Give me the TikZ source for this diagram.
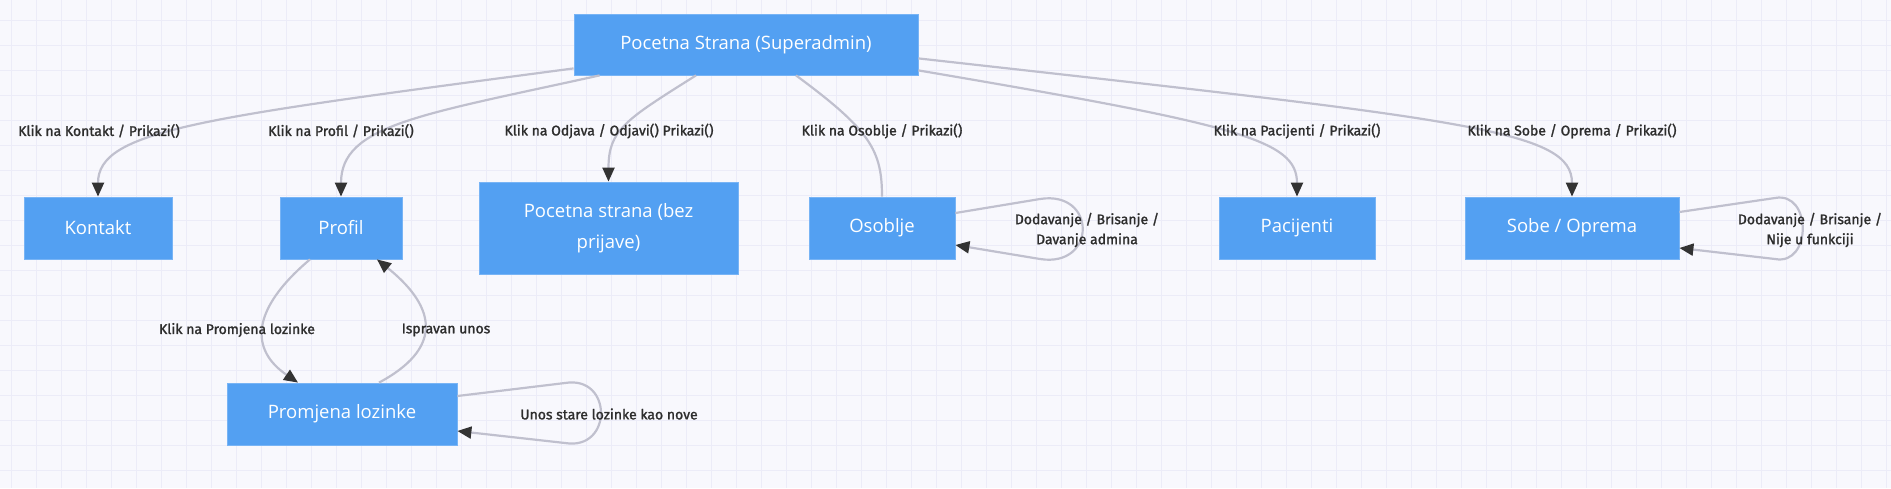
\documentclass[tikz,border=0pt]{standalone}
\usepackage{fontspec}
\setmainfont{Open Sans}
\newfontfamily\lblfont[FakeBold=1.5]{Fira Sans}
\usepackage{xcolor}
\usetikzlibrary{arrows.meta}

\definecolor{stblue}{RGB}{83,160,242}
\definecolor{stborder}{RGB}{120,180,245}
\definecolor{edgegray}{RGB}{192,192,206}
\definecolor{tipdark}{RGB}{51,51,51}
\definecolor{lbltext}{RGB}{45,45,45}
\definecolor{bgpaper}{RGB}{248,248,253}
\definecolor{gridline}{RGB}{236,236,248}

\begin{document}
\begin{tikzpicture}[x=1pt, y=-1pt,
	state/.style={draw=stborder, line width=0.8pt, fill=stblue, text=white, font=\fontsize{18.5}{31}\selectfont, inner sep=0pt, minimum height=62pt, align=center},
	lbl/.style={text=lbltext, font=\lblfont\fontsize{14}{20}\selectfont, align=center, inner sep=0pt},
	edge/.style={draw=edgegray, line width=2.2pt},
	tip/.style={-{Triangle[length=14pt, width=12pt, color=tipdark]}}]
				\useasboundingbox (0,0) rectangle (1891,488);
				\fill[bgpaper] (0,0) rectangle (1891,488);
				\foreach \gx in {11,36,...,1891} \draw[gridline, line width=1pt] (\gx,0) -- (\gx,488);
				\foreach \gy in {20,45,...,488} \draw[gridline, line width=1pt] (0,\gy) -- (1891,\gy);

				% states
				\node[state, minimum width=344pt, minimum height=61pt] (home) at (746,44.5) {Pocetna Strana (Superadmin)};
				\node[state, minimum width=148pt] (kontakt) at (98,228) {Kontakt};
				\node[state, minimum width=122pt] (profil) at (341,228) {Profil};
				\node[state, minimum width=259pt, minimum height=92pt] (odjava) at (608.5,228) {Pocetna strana (bez\\prijave)};
				\node[state, minimum width=146pt] (osoblje) at (882,228) {Osoblje};
				\node[state, minimum width=156pt] (pacijenti) at (1297,228) {Pacijenti};
				\node[state, minimum width=214pt] (sobe) at (1572,228) {Sobe / Oprema};
				\node[state, minimum width=230pt] (lozinka) at (342,414) {Promjena lozinke};

				% transitions from the start page
				\draw[edge, tip] ([yshift=7pt]home.south west) .. controls (200,118) and (98,130) .. (kontakt.north);
				\draw[edge, tip] ([xshift=26pt]home.south west) .. controls (420,115) and (341,125) .. (profil.north);
				\draw[edge, tip] ([xshift=-50pt]home.south) .. controls (625,120) and (608.5,130) .. (odjava.north);
				\draw[edge] ([xshift=50pt]home.south) .. controls (870,130) and (882,150) .. (osoblje.north);
				\draw[edge, tip] ([yshift=5pt]home.south east) .. controls (1240,125) and (1297,140) .. (pacijenti.north);
				\draw[edge, tip] ([yshift=17pt]home.south east) .. controls (1470,120) and (1572,130) .. (sobe.north);

				% self loops
				\draw[edge, tip] ([yshift=15pt]osoblje.east) -- (1040,199) .. controls (1097,190) and (1097,268) .. (1040,259) -- ([yshift=-17pt]osoblje.east);
				\draw[edge, tip] ([yshift=16pt]sobe.east) -- (1775,198) .. controls (1812,191) and (1812,266) .. (1775,259) -- ([yshift=-20pt]sobe.east);
				\draw[edge, tip] ([yshift=18pt]lozinka.east) -- (565,383) .. controls (613,375) and (613,451) .. (565,443) -- ([yshift=-17pt]lozinka.east);

				% profil <-> promjena lozinke
				\draw[edge, tip] ([xshift=-31pt]profil.south) .. controls (250,310) and (250,350) .. ([xshift=-44pt]lozinka.north);
				\draw[edge, tip] ([xshift=37pt]lozinka.north) .. controls (440,350) and (440,310) .. ([xshift=36pt]profil.south);

				% labels
				\node[lbl] (lblkontakt) at (99,131) {Klik na Kontakt / Prikazi()};
				\node[lbl] (lblprofil) at (341,131) {Klik na Profil / Prikazi()};
				\node[lbl] (lblodjava) at (609,131) {Klik na Odjava / Odjavi() Prikazi()};
				\node[lbl] (lblosoblje) at (882,131) {Klik na Osoblje / Prikazi()};
				\node[lbl] (lblpacijenti) at (1297,131) {Klik na Pacijenti / Prikazi()};
				\node[lbl] (lblsobe) at (1572,131) {Klik na Sobe / Oprema / Prikazi()};
				\node[lbl] (lbldodaj) at (1087,230) {Dodavanje / Brisanje /\\Davanje admina};
				\node[lbl] (lblfunkc) at (1810,230) {Dodavanje / Brisanje /\\Nije u funkciji};
				\node[lbl] (lblklik) at (237,330) {Klik na Promjena lozinke};
				\node[lbl] (lblunos) at (446,330) {Ispravan unos};
				\node[lbl] (lblstare) at (609,414) {Unos stare lozinke kao nove};
			\end{tikzpicture}
\end{document}
